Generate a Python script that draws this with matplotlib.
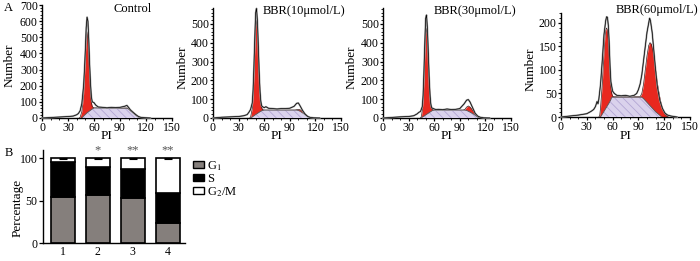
import matplotlib
matplotlib.use("Agg")
import matplotlib.pyplot as plt
from matplotlib.ticker import MultipleLocator
from matplotlib.patches import Patch

plt.rcParams['font.family'] = ['Liberation Serif', 'DejaVu Serif']
plt.rcParams['mathtext.fontset'] = 'stix'
plt.rcParams['hatch.linewidth'] = 0.6

# ---------------- Panel A data (PI channel vs cell number) ----------------
titles = ["Control", "BBR(10\u03bcmol/L)", "BBR(30\u03bcmol/L)", "BBR(60\u03bcmol/L)"]

ctrl_raw_pi = [0, 10, 20, 30, 36, 40, 42, 44, 46, 48, 49, 50, 51, 52, 53, 54, 55, 56, 57, 58, 60, 62, 65, 70, 75, 80, 85, 90, 95, 98, 100, 102, 105, 108, 111, 114, 118, 125]
ctrl_raw_n = [0, 3, 6, 9, 12, 20, 28, 45, 90, 200, 300, 420, 560, 625, 600, 480, 330, 210, 130, 100, 95, 80, 68, 66, 63, 66, 64, 66, 72, 78, 65, 50, 35, 22, 10, 4, 2, 0]
ctrl_fit_pi = [43, 44, 46, 48, 49, 50, 51, 52, 53, 54, 55, 56, 57, 58, 60, 98, 100, 102, 105, 108, 111, 114]
ctrl_fit_n = [0, 5, 40, 150, 260, 390, 500, 534, 490, 380, 260, 160, 95, 70, 62, 62, 60, 52, 38, 22, 8, 0]
ctrl_s_pi = [46, 48, 50, 52, 54, 56, 58, 60, 98, 100, 102, 105, 108, 111, 114]
ctrl_s_n = [0, 12, 22, 32, 40, 48, 56, 62, 60, 55, 45, 32, 18, 6, 0]

b10_raw_pi = [0, 10, 20, 30, 36, 40, 42, 44, 46, 47, 48, 49, 50, 51, 52, 53, 54, 55, 56, 57, 58, 60, 62, 65, 70, 75, 80, 85, 90, 95, 98, 100, 102, 105, 108, 111, 114, 118, 125]
b10_raw_n = [0, 4, 6, 8, 12, 18, 30, 45, 80, 150, 280, 430, 560, 583, 520, 400, 260, 150, 90, 65, 60, 55, 60, 52, 50, 48, 50, 50, 52, 62, 78, 80, 65, 40, 20, 8, 3, 1, 0]
b10_fit_pi = [43, 44, 46, 47, 48, 49, 50, 51, 52, 53, 54, 55, 56, 57, 58, 60, 96, 98, 100, 102, 105, 108, 111, 114, 116]
b10_fit_n = [0, 4, 50, 120, 240, 380, 490, 521, 470, 360, 240, 140, 80, 55, 45, 42, 42, 44, 46, 44, 36, 22, 10, 2, 0]
b10_s_pi = [44, 46, 48, 50, 52, 54, 56, 58, 60, 98, 100, 102, 105, 108, 111, 114]
b10_s_n = [0, 5, 12, 18, 24, 30, 36, 40, 42, 42, 40, 36, 27, 18, 9, 0]

b30_raw_pi = [0, 10, 20, 30, 36, 40, 42, 44, 46, 47, 48, 49, 50, 51, 52, 53, 54, 55, 56, 57, 58, 60, 62, 65, 70, 75, 80, 85, 90, 95, 98, 100, 102, 105, 108, 111, 114, 118, 125]
b30_raw_n = [0, 3, 6, 8, 12, 22, 30, 35, 60, 120, 250, 400, 530, 548, 480, 360, 230, 130, 75, 55, 52, 48, 45, 46, 44, 48, 45, 46, 50, 75, 95, 98, 85, 55, 25, 10, 4, 1, 0]
b30_fit_pi = [44, 45, 46, 47, 48, 49, 50, 51, 52, 53, 54, 55, 56, 57, 58, 60, 94, 96, 98, 100, 102, 105, 108, 111, 114, 116]
b30_fit_n = [0, 8, 40, 100, 210, 350, 450, 477, 430, 320, 210, 120, 70, 50, 44, 42, 42, 46, 58, 64, 58, 42, 22, 8, 2, 0]
b30_s_pi = [44, 46, 48, 50, 52, 54, 56, 58, 60, 96, 98, 100, 102, 105, 108, 111, 113]
b30_s_n = [0, 4, 10, 16, 22, 28, 34, 40, 42, 42, 40, 36, 31, 24, 15, 5, 0]

b60_raw_pi = [0, 10, 20, 30, 35, 38, 40, 42, 43, 44, 46, 48, 50, 52, 53, 54, 55, 56, 57, 58, 60, 62, 65, 70, 75, 80, 85, 88, 90, 92, 94, 96, 98, 100, 102, 103, 104, 106, 108, 110, 112, 115, 118, 121, 124, 128, 135]
b60_raw_n = [0, 2, 4, 7, 12, 16, 22, 33, 28, 38, 70, 120, 175, 205, 213, 212, 195, 160, 110, 75, 55, 50, 46, 45, 46, 44, 46, 50, 58, 70, 90, 120, 150, 180, 200, 210, 205, 180, 140, 100, 65, 35, 18, 8, 4, 2, 0]
b60_fit_pi = [44, 45, 46, 48, 50, 51, 52, 53, 54, 55, 56, 57, 58, 59, 60, 62, 92, 94, 96, 98, 100, 102, 103.5, 105, 107, 109, 111, 113, 115, 117, 119, 121, 123, 125]
b60_fit_n = [0, 3, 20, 70, 140, 170, 185, 189, 185, 165, 130, 95, 65, 50, 44, 43, 43, 50, 70, 100, 130, 152, 158, 155, 140, 115, 85, 60, 40, 24, 13, 6, 2, 0]
b60_s_pi = [46, 48, 50, 52, 54, 56, 58, 59, 94, 96, 98, 100, 102, 104, 106, 108, 110, 112, 114, 117]
b60_s_n = [0, 6, 12, 18, 24, 30, 37, 42, 42, 39, 35, 31, 27, 23, 19, 15, 11, 8, 5, 0]

raw_pi = [ctrl_raw_pi, b10_raw_pi, b30_raw_pi, b60_raw_pi]
raw_n = [ctrl_raw_n, b10_raw_n, b30_raw_n, b60_raw_n]
fit_pi = [ctrl_fit_pi, b10_fit_pi, b30_fit_pi, b60_fit_pi]
fit_n = [ctrl_fit_n, b10_fit_n, b30_fit_n, b60_fit_n]
s_pi = [ctrl_s_pi, b10_s_pi, b30_s_pi, b60_s_pi]
s_n = [ctrl_s_n, b10_s_n, b30_s_n, b60_s_n]

y_max = [700, 585, 585, 221]
y_major = [100, 100, 100, 50]
y_minor = [20, 20, 20, 10]
x_ticks = [0, 30, 60, 90, 120, 150]

# ---------------- Panel B data ----------------
groups = ["1", "2", "3", "4"]
g1_pct = [54, 57, 53, 24]
s_pct = [42, 33, 35, 35]
g2m_pct = [4, 10, 12, 41]
total_err = [1, 1, 1, 1]
sig_marks = ["", "*", "**", "**"]

W, H = 700, 261
fig = plt.figure(figsize=(W / 100, H / 100), dpi=100)

def fx(px):
    return px / W

def fy(py):
    return 1 - py / H

axes_px = [(42, 172, 5, 118), (213, 341, 8, 118), (383, 511, 8, 118), (561, 690, 13, 117)]
title_pos = [(133, 9), (304, 11), (475, 11), (657, 10)]
ylab_x = [10, 183, 352, 531]

RED = '#e8281f'
PURPLE = '#dad2ec'
HATCH = '#b3a6d4'

for i in range(4):
    l, r, t, b = axes_px[i]
    ax = fig.add_axes([fx(l), fy(b), (r - l) / W, (b - t) / H])
    ax.fill_between(fit_pi[i], 0, fit_n[i], color=RED, linewidth=0, zorder=2)
    ax.plot(fit_pi[i], fit_n[i], color='#3a1a1a', lw=0.5, zorder=3)
    ax.fill_between(s_pi[i], 0, s_n[i], facecolor=PURPLE, edgecolor=HATCH,
                    hatch='\\\\\\\\', linewidth=0, zorder=4)
    ax.plot(s_pi[i], s_n[i], color='#555555', lw=0.6, zorder=5)
    ax.plot(raw_pi[i], raw_n[i], color='#a0a0a0', lw=1.3, zorder=6, clip_on=False)
    ax.plot(raw_pi[i], raw_n[i], color='black', lw=0.5, zorder=7, clip_on=False)
    ax.set_xlim(0, 150)
    ax.set_ylim(0, y_max[i])
    ax.set_xticks(x_ticks)
    ax.xaxis.set_minor_locator(MultipleLocator(10))
    ax.yaxis.set_major_locator(MultipleLocator(y_major[i]))
    ax.yaxis.set_minor_locator(MultipleLocator(y_minor[i]))
    for sp in ['top', 'right']:
        ax.spines[sp].set_visible(False)
    for sp in ['left', 'bottom']:
        ax.spines[sp].set_linewidth(1.0)
    ax.tick_params(which='major', length=2.5, width=0.9, labelsize=8.5, pad=0.5)
    ax.tick_params(which='minor', length=1.5, width=0.6)
    fig.text(fx(title_pos[i][0]), fy(title_pos[i][1]), titles[i], ha='center', va='center', fontsize=9)
    fig.text(fx(ylab_x[i]), fy((t + b) / 2 + 4), "Number", rotation=90, ha='center', va='center', fontsize=9.5)
    fig.text(fx((l + r) / 2), fy(136), "PI", ha='center', va='center', fontsize=9.5)

fig.text(fx(8), fy(8), "A", ha='center', va='center', fontsize=9)
fig.text(fx(9), fy(153), "B", ha='center', va='center', fontsize=9)

# ---------------- Panel B ----------------
axb = fig.add_axes([fx(43), fy(243.3), 142 / W, (243.3 - 150) / H])
xpos = [1, 2, 3, 4]
bw = 0.68
GRAY = '#857f7c'
axb.bar(xpos, g1_pct, bw, color=GRAY, edgecolor='black', linewidth=1.2, zorder=2)
bottom2 = [a for a in g1_pct]
axb.bar(xpos, s_pct, bw, bottom=bottom2, color='black', edgecolor='black', linewidth=1.2, zorder=2)
bottom3 = [a + c for a, c in zip(g1_pct, s_pct)]
axb.bar(xpos, g2m_pct, bw, bottom=bottom3, color='white', edgecolor='black', linewidth=1.2, zorder=2)
tops = [a + c + d for a, c, d in zip(g1_pct, s_pct, g2m_pct)]
axb.errorbar(xpos, tops, yerr=total_err, fmt='none', ecolor='black', elinewidth=0.8, capsize=3, capthick=0.8, zorder=3)
for xp, top, m in zip(xpos, tops, sig_marks):
    if m:
        axb.text(xp, top + 2, m, ha='center', va='bottom', fontsize=9, color='#555555')
axb.set_xlim(0.44, 4.49)
axb.set_ylim(0, 110)
axb.set_xticks(xpos)
axb.set_xticklabels(groups)
axb.set_yticks([0, 50, 100])
for sp in ['top', 'right']:
    axb.spines[sp].set_visible(False)
for sp in ['left', 'bottom']:
    axb.spines[sp].set_linewidth(1.0)
axb.tick_params(axis='y', length=3, width=0.9, labelsize=8.5, pad=1)
axb.tick_params(axis='x', length=0, labelsize=8.5, pad=2)
fig.text(fx(18), fy(208), "Percentage", rotation=90, ha='center', va='center', fontsize=9.5)

handles = [Patch(facecolor=GRAY, edgecolor='black', linewidth=1.0),
           Patch(facecolor='black', edgecolor='black', linewidth=1.0),
           Patch(facecolor='white', edgecolor='black', linewidth=1.0)]
fig.legend(handles, ['G$_1$', 'S', 'G$_2$/M'], loc='upper left',
           bbox_to_anchor=(fx(193), fy(159)), frameon=False, fontsize=9,
           handlelength=0.9, handleheight=0.55, handletextpad=0.25,
           labelspacing=0.0, borderpad=0, borderaxespad=0)

fig.savefig("out.png", dpi=100)
